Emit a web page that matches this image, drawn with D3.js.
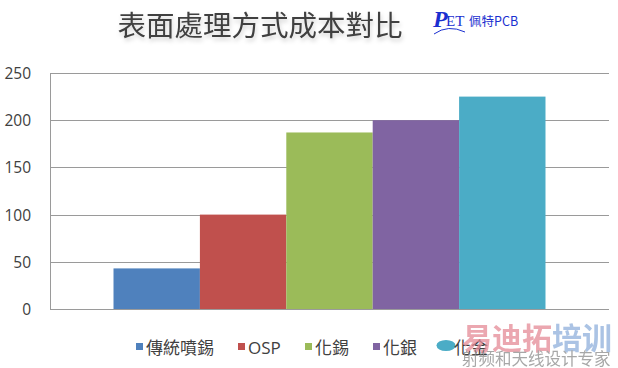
<!DOCTYPE html>
<html>
<head>
<meta charset="utf-8">
<script src="https://cdn.jsdelivr.net/npm/d3@7"></script>
<style>
  html, body { margin: 0; padding: 0; background: #fff; }
  svg { display: block; }
</style>
</head>
<body>
<svg id="chart" width="618" height="368"></svg>
<script>
const title = "表面處理方式成本對比";
const category = ["成本"];
const seriesNames = ["傳統噴錫", "OSP", "化錫", "化銀", "化金"];
const seriesValues = [43, 100, 187, 200, 225];
const seriesColors = ["#4f81bd", "#c0504d", "#9bbb59", "#8064a2", "#4bacc6"];
const yTicks = [0, 50, 100, 150, 200, 250];

const svg = d3.select("#chart");
const plotL = 50, plotR = 609, plotT = 73, plotB = 309;

const defs = svg.append("defs");
const f = defs.append("filter").attr("id", "tshadow").attr("x", "-10%").attr("y", "-30%").attr("width", "120%").attr("height", "170%");
f.append("feDropShadow").attr("dx", 1).attr("dy", 3).attr("stdDeviation", 2).attr("flood-color", "#000").attr("flood-opacity", 0.18);

// Title
svg.append("text")
  .attr("x", 260).attr("y", 36)
  .attr("text-anchor", "middle")
  .attr("font-family", "'Noto Sans CJK TC', 'Noto Sans CJK SC', sans-serif")
  .attr("font-size", 28.5)
  .attr("fill", "#404040")
  .attr("filter", "url(#tshadow)")
  .text(title);

// Logo
const logo = svg.append("g");
logo.append("text").attr("x", 433).attr("y", 27)
  .attr("font-family", "'Liberation Serif', serif").attr("font-style", "italic").attr("font-weight", "bold")
  .attr("font-size", 24).attr("fill", "#1a2fd0").text("P");
logo.append("text").attr("x", 446).attr("y", 26)
  .attr("font-family", "'Liberation Serif', serif")
  .attr("font-size", 15).attr("fill", "#1a2fd0").text("ET");
logo.append("text").attr("x", 469).attr("y", 26)
  .attr("font-family", "'Noto Sans CJK SC', 'Liberation Serif', serif")
  .attr("font-size", 12.5).attr("fill", "#1a2fd0").text("佩特PCB");
logo.append("path").attr("d", "M434,34 Q448,24 465,32")
  .attr("fill", "none").attr("stroke", "#1a2fd0").attr("stroke-width", 1);

// Scales
const y = d3.scaleLinear().domain([0, 250]).range([plotB, plotT]);
const x0 = d3.scaleBand().domain(category).range([plotL, plotR]).paddingInner(0).paddingOuter(0.147);
const x1 = d3.scaleBand().domain(seriesNames).range([0, x0.bandwidth()]).padding(0);

// Gridlines
svg.append("g").selectAll("line").data(yTicks).join("line")
  .attr("x1", plotL).attr("x2", plotR)
  .attr("y1", d => Math.round(y(d)) + 0.5).attr("y2", d => Math.round(y(d)) + 0.5)
  .attr("stroke", "#9a9a9a").attr("stroke-width", 1);

// Left axis line
svg.append("line").attr("x1", plotL + 0.5).attr("x2", plotL + 0.5)
  .attr("y1", plotT).attr("y2", plotB + 0.5)
  .attr("stroke", "#9a9a9a");

// Bars
const data = seriesNames.map((s, i) => ({ s, v: seriesValues[i], c: seriesColors[i] }));
svg.append("g").attr("transform", `translate(${x0(category[0])},0)`)
  .selectAll("rect").data(data).join("rect")
  .attr("x", d => x1(d.s))
  .attr("width", x1.bandwidth())
  .attr("y", d => y(d.v))
  .attr("height", d => y(0) - y(d.v))
  .attr("fill", d => d.c);

// Y axis labels
const yAxis = d3.axisLeft(y).tickValues(yTicks).tickSize(0).tickPadding(0);
const ga = svg.append("g").attr("transform", `translate(31,0)`).call(yAxis);
ga.select(".domain").remove();
ga.selectAll("text")
  .attr("font-family", "'Open Sans', 'Noto Sans', sans-serif")
  .attr("font-size", 15.5)
  .attr("fill", "#404040")
  .attr("dy", "0.36em");

// Legend
const legendX = [136, 238, 305, 373, 437];
const lg = svg.append("g");
data.forEach((d, i) => {
  const g = lg.append("g").attr("transform", `translate(${legendX[i]},0)`);
  if (i === 4) {
    g.append("ellipse").attr("cx", 9).attr("cy", 345.5).attr("rx", 9.5).attr("ry", 5.5).attr("fill", d.c);
    g.append("text").attr("x", 17).attr("y", 354)
      .attr("font-family", "'Noto Sans CJK TC', sans-serif").attr("font-size", 17)
      .attr("fill", "#404040").text(d.s);
  } else {
    g.append("rect").attr("x", 0).attr("y", 343).attr("width", 7).attr("height", 7).attr("fill", d.c);
    g.append("text").attr("x", 10).attr("y", 354)
      .attr("font-family", d.s === "OSP" ? "'Open Sans', sans-serif" : "'Noto Sans CJK TC', sans-serif")
      .attr("font-size", 17)
      .attr("fill", "#404040").text(d.s);
  }
});

// Watermark
const wm = svg.append("g").attr("opacity", 0.75);
wm.append("text").attr("x", 462).attr("y", 349)
  .attr("font-family", "'Noto Sans CJK SC', sans-serif").attr("font-weight", "bold")
  .attr("font-size", 30).attr("fill", "#e58a96").text("易迪拓");
wm.append("text").attr("x", 552).attr("y", 349)
  .attr("font-family", "'Noto Sans CJK SC', sans-serif").attr("font-weight", "bold")
  .attr("font-size", 30).attr("fill", "#8fb0dc").text("培训");
wm.append("text").attr("x", 462).attr("y", 365)
  .attr("font-family", "'Noto Sans CJK SC', sans-serif")
  .attr("font-size", 16.5).attr("fill", "#8a8a8a").text("射频和天线设计专家");
</script>
</body>
</html>
